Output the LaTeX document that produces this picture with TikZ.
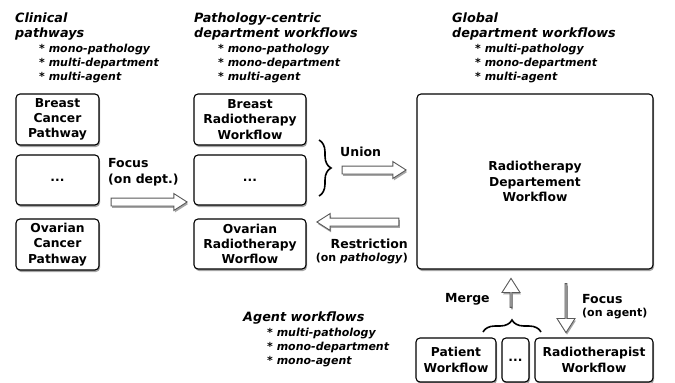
\documentclass[tikz,border=0pt]{standalone}
\usepackage{fontspec}
\setmainfont{DejaVu Sans}
\usetikzlibrary{shapes.arrows,shadows,decorations.pathreplacing}
\begin{document}
\begin{tikzpicture}[x=1pt,y=-1pt,
  shd/.style={drop shadow={shadow xshift=1pt, shadow yshift=-2pt, opacity=0.35, fill=black}},
  box/.style={draw=black, line width=1.1pt, rounded corners=4pt, fill=white, align=center,
    font=\fontsize{12.3}{15.3}\selectfont\bfseries, inner sep=0pt, shd},
  harrow/.style={single arrow, draw=black!65, fill=white, line width=0.9pt, inner xsep=0pt,
    inner ysep=3.5pt, minimum width=16pt, single arrow head extend=4.5pt,
    single arrow tip angle=65, shd},
  hdr/.style={anchor=base west, align=left, inner sep=0pt,
    font=\fontsize{12.8}{15}\selectfont\bfseries\itshape},
  subl/.style={anchor=base west, align=left, inner sep=0pt,
    font=\fontsize{11}{13.8}\selectfont\bfseries\itshape},
  lbl/.style={inner sep=0pt, font=\fontsize{12.5}{15.5}\selectfont\bfseries},
  slbl/.style={inner sep=0pt, font=\fontsize{11}{13.5}\selectfont\bfseries},
  brc/.style={decorate, decoration={brace, amplitude=12pt}, line width=1.6pt}]
\useasboundingbox (0,0) rectangle (675,383);

% headers (anchored at the baseline of their last line)
\node[hdr] (h1) at (15,37) {Clinical\\pathways};
\node[subl] (s1) at (39,80) {* mono-pathology\\* multi-department\\* multi-agent};
\node[hdr] (h2) at (194,37) {Pathology-centric\\department workflows};
\node[subl] (s2) at (218,80) {* mono-pathology\\* mono-department\\* multi-agent};
\node[hdr] (h3) at (452,37) {Global\\department workflows};
\node[subl] (s3) at (475,80) {* multi-pathology\\* mono-department\\* multi-agent};
\node[hdr] (h4) at (243,321.5) {Agent workflows};
\node[subl] (s4) at (267,364) {* multi-pathology\\* mono-department\\* mono-agent};

% column 1
\node[box, minimum width=83pt, minimum height=51pt] (c1a) at (57.5,119.5) {Breast\\Cancer\\Pathway};
\node[box, minimum width=83pt, minimum height=50pt] (c1b) at (57.5,180) {...};
\node[box, minimum width=83pt, minimum height=51pt] (c1c) at (57.5,244.5) {Ovarian\\Cancer\\Pathway};

% column 2
\node[box, minimum width=112pt, minimum height=51pt] (c2a) at (250,119.5) {Breast\\Radiotherapy\\Workflow};
\node[box, minimum width=112pt, minimum height=50pt] (c2b) at (250,180) {...};
\node[box, minimum width=112pt, minimum height=50pt] (c2c) at (250,244) {Ovarian\\Radiotherapy\\Worflow};

% big box
\node[box, minimum width=236pt, minimum height=175pt] (big) at (535,181.5) {Radiotherapy\\Departement\\Workflow};

% bottom boxes
\node[box, minimum width=80pt, minimum height=44pt] (pat) at (456,360) {Patient\\Workflow};
\node[box, minimum width=27pt, minimum height=44pt] (dots) at (515.5,360) {...};
\node[box, minimum width=118pt, minimum height=44pt] (rth) at (594,360) {Radiotherapist\\Workflow};

% arrows
\node[harrow, minimum height=76pt] (afocus) at (146,202) {};
\node[harrow, minimum height=64pt] (aunion) at (371,170) {};
\node[harrow, minimum height=82pt, shape border rotate=180] (arestr) at (361,222) {};
\node[harrow, minimum height=29pt, minimum width=18pt, inner ysep=4pt, shape border rotate=90] (amerge) at (511,293.5) {};
\node[harrow, minimum height=49pt, minimum width=18pt, shape border rotate=270] (afoc2) at (566,307.5) {};

% braces
\coordinate (b1s) at (319,140);
\coordinate (b1e) at (319,196);
\draw[brc] (b1s) -- (b1e);
\coordinate (b2s) at (483,332);
\coordinate (b2e) at (541,332);
\draw[brc] (b2s) -- (b2e);

% labels
\node[lbl, anchor=base west, align=left] (lfocus) at (108,183) {Focus\\(on dept.)};
\node[lbl, anchor=base west] (lunion) at (340,156.5) {Union};
\node[lbl, anchor=base east] (lrestr) at (408,248) {Restriction};
\node[slbl, anchor=base east] (lrestr2) at (408,261.5) {(on \textit{pathology})};
\node[lbl, anchor=base west] (lmerge) at (445,302.3) {Merge};
\node[lbl, anchor=base west] (lfoc2) at (582,303.3) {Focus};
\node[slbl, anchor=base west] (lfoc3) at (582,316.7) {(on agent)};
\end{tikzpicture}
\end{document}
